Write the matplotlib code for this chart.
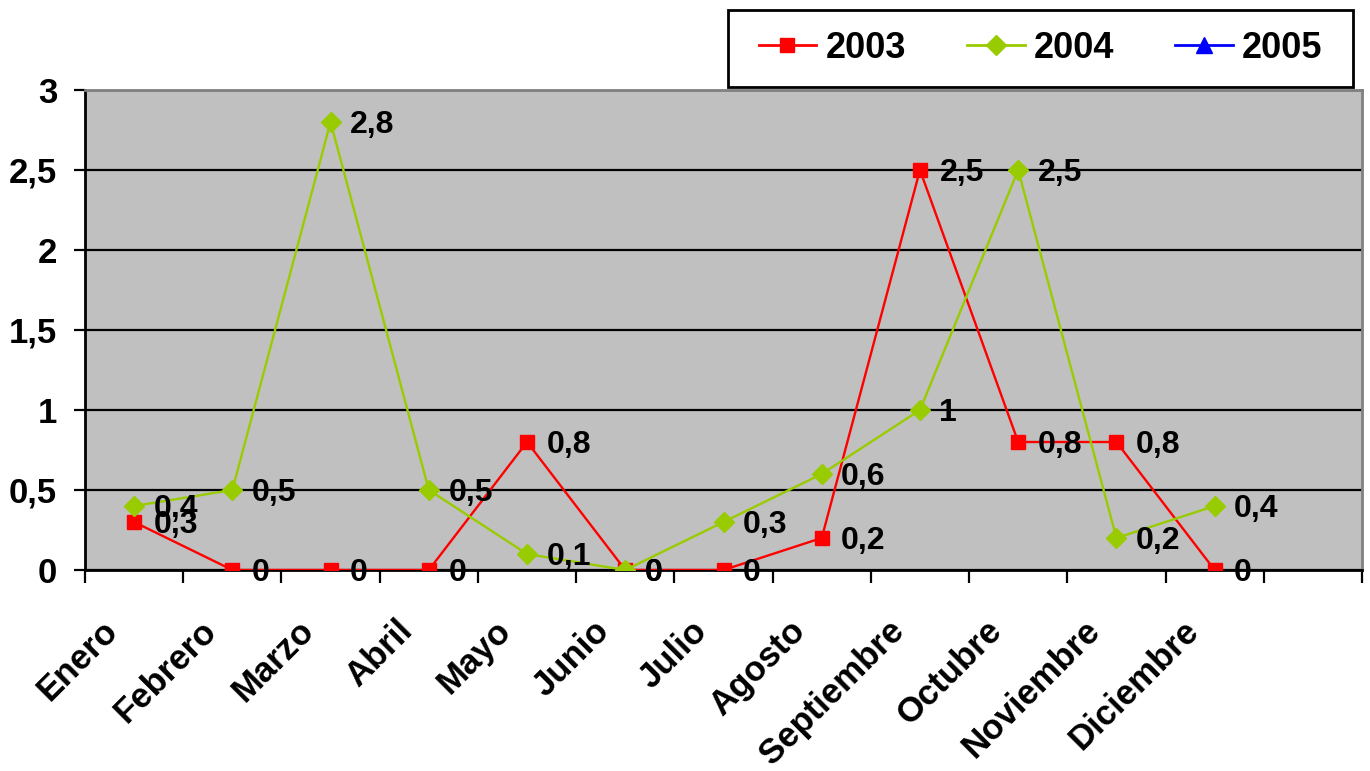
import matplotlib
matplotlib.use("Agg")
import matplotlib.pyplot as plt
from matplotlib.patches import Rectangle
from matplotlib.ticker import FixedLocator, FuncFormatter, NullFormatter
from matplotlib.transforms import ScaledTranslation

plt.rcParams['font.family'] = ['Liberation Sans', 'DejaVu Sans']
plt.rcParams['font.weight'] = 'bold'

meses = ['Enero', 'Febrero', 'Marzo', 'Abril', 'Mayo', 'Junio', 'Julio',
         'Agosto', 'Septiembre', 'Octubre', 'Noviembre', 'Diciembre']
v2003 = [0.3, 0, 0, 0, 0.8, 0, 0, 0.2, 2.5, 0.8, 0.8, 0]
v2004 = [0.4, 0.5, 2.8, 0.5, 0.1, 0, 0.3, 0.6, 1, 2.5, 0.2, 0.4]
v2005 = []


def coma(v, pos=None):
    return f'{v:g}'.replace('.', ',')


W, H = 1370, 771
fig = plt.figure(figsize=(W / 100, H / 100), dpi=100)
ax = fig.add_axes([85 / W, 201 / H, 1277 / W, 480 / H])
ax.set_facecolor('#C0C0C0')

x = list(range(len(meses)))
ax.plot(x, v2003, color='#FF0000', lw=1.7, marker='s', ms=10.5,
        mec='#FF0000', label='2003', zorder=3)
ax.plot(x, v2004, color='#99CC00', lw=1.7, marker='D', ms=10,
        mec='#99CC00', label='2004', zorder=3)
ax.plot(v2005, v2005, color='#0000FF', lw=1.7, marker='^', ms=11,
        label='2005', zorder=3)

# etiquetas de datos a la derecha de cada punto
for serie in (v2004, v2003):
    for i, v in enumerate(serie):
        ax.annotate(coma(v), (i, v), xytext=(14, -2), textcoords='offset points',
                    ha='left', va='center', fontsize=23, fontweight='bold',
                    zorder=5, annotation_clip=False)

ax.set_xlim(-0.5, 12.5)
ax.set_ylim(0, 3)
ax.set_yticks([0, 0.5, 1, 1.5, 2, 2.5, 3])
ax.yaxis.set_major_formatter(FuncFormatter(coma))
ax.yaxis.grid(True, color='black', lw=1.6)
ax.set_axisbelow(True)

# meses inclinados bajo el eje, algo corridos a la izquierda
ax.set_xticks(x)
ax.xaxis.set_major_formatter(NullFormatter())
desplaza = ScaledTranslation(-0.33, -0.44, fig.dpi_scale_trans)
for i, m in enumerate(meses):
    ax.text(i, 0, m, transform=ax.get_xaxis_transform() + desplaza,
            rotation=45, ha='right', va='top', rotation_mode='anchor',
            fontsize=25, fontweight='bold', clip_on=False)
ax.xaxis.set_minor_locator(FixedLocator([i - 0.5 for i in range(14)]))
ax.tick_params(axis='x', which='major', length=0)
ax.tick_params(axis='x', which='minor', length=9, width=1.6, direction='out')
ax.tick_params(axis='y', length=8, width=1.6, pad=12, labelsize=25)

for s in ('left', 'bottom'):
    ax.spines[s].set_color('black')
    ax.spines[s].set_linewidth(2)
for s in ('top', 'right'):
    ax.spines[s].set_color('#808080')
    ax.spines[s].set_linewidth(2)

# recuadro de la leyenda
fig.patches.append(Rectangle((728 / W, (H - 87) / H), 625 / W, 77 / H,
                             transform=fig.transFigure, facecolor='white',
                             edgecolor='black', lw=2, zorder=4))
leg = fig.legend(loc='center', ncol=3,
                 bbox_to_anchor=(1040.5 / W, (H - 48.5) / H),
                 prop={'size': 26, 'weight': 'bold'}, frameon=False,
                 handlelength=1.6, handletextpad=0.25, columnspacing=1.69,
                 borderpad=0.2)
leg.set_zorder(5)
for ln in leg.get_lines():
    ln.set_linewidth(2)

fig.savefig('out.png', dpi=100)
